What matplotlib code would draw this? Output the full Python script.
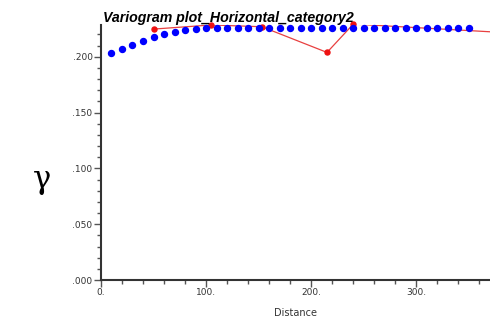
import matplotlib.pyplot as plt
from matplotlib.ticker import MultipleLocator, FuncFormatter

# experimental variogram (red)
exp_dist = [50, 105, 153, 215, 240, 400]
exp_gamma = [0.2248, 0.2285, 0.2269, 0.2039, 0.2293, 0.2208]

# model variogram (blue)
mod_dist = [10, 20, 30, 40, 50, 60, 70, 80, 90, 100, 110, 120, 130, 140, 150, 160, 170, 180,
            190, 200, 210, 220, 230, 240, 250, 260, 270, 280, 290, 300, 310, 320, 330, 340, 350]
mod_gamma = [0.2030, 0.2067, 0.2105, 0.2142, 0.2175, 0.2203, 0.2226, 0.2243, 0.2253, 0.2258,
             0.2260, 0.2261, 0.2261, 0.2261, 0.2261, 0.2261, 0.2261, 0.2261, 0.2261, 0.2261,
             0.2261, 0.2261, 0.2261, 0.2261, 0.2261, 0.2261, 0.2261, 0.2261, 0.2261, 0.2261,
             0.2261, 0.2261, 0.2261, 0.2261, 0.2261]

fig = plt.figure(figsize=(4.9, 3.2), dpi=100)
ax = fig.add_axes([0.206, 0.125, 0.794, 0.797])

ax.plot(exp_dist, exp_gamma, color='#e84040', linewidth=0.9, zorder=2)
ax.plot(exp_dist, exp_gamma, 'o', color='#ee1111', markersize=3.6, clip_on=False, zorder=3)
ax.plot(mod_dist, mod_gamma, 'o', color='#0000ff', markersize=4.3, clip_on=False, zorder=4)

ax.set_xlim(0, 370)
ax.set_ylim(0, 0.2285)

ax.xaxis.set_major_locator(MultipleLocator(100))
ax.xaxis.set_minor_locator(MultipleLocator(20))
ax.yaxis.set_major_locator(MultipleLocator(0.05))
ax.yaxis.set_minor_locator(MultipleLocator(0.01))
ax.xaxis.set_major_formatter(FuncFormatter(lambda v, p: '%d.' % v))
ax.yaxis.set_major_formatter(FuncFormatter(lambda v, p: ('%.3f' % v)[1:]))

for s in ['top', 'right']:
    ax.spines[s].set_visible(False)
for s in ['left', 'bottom']:
    ax.spines[s].set_linewidth(1.5)
    ax.spines[s].set_color('#333333')

ax.tick_params(which='major', length=5, width=1, color='#555555', labelsize=6.5,
               labelcolor='#333333', pad=1)
ax.tick_params(which='minor', length=3, width=1, color='#555555')

ax.set_xlabel('Distance', fontsize=7, color='#333333', labelpad=8)
fig.text(0.085, 0.44, 'γ', fontsize=22, family='DejaVu Serif', ha='center', va='center')
fig.text(0.21, 0.945, 'Variogram plot_Horizontal_category2', fontsize=10.2,
         family='Liberation Sans', weight='bold', style='italic', ha='left', va='center')

plt.savefig('out.png', dpi=100)
